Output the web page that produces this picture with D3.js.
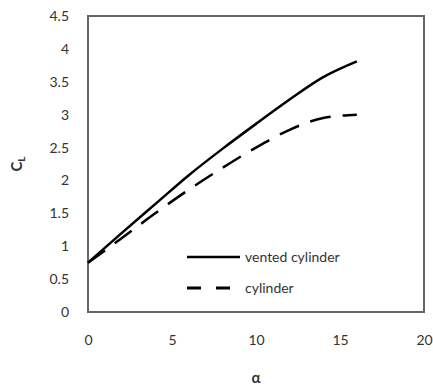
<!DOCTYPE html>
<html>
<head>
<meta charset="utf-8">
<script src="https://cdn.jsdelivr.net/npm/d3@7"></script>
<style>
  body { margin: 0; background: #fff; }
  text { font-family: Lato, "Open Sans", sans-serif; fill: #333; }
</style>
</head>
<body>
<div id="chart"></div>
<script>
// Data
//=================================
var alpha = [0, 2, 4, 6, 8, 10, 12, 14, 16];
var ventedCL = [0.75, 1.2, 1.64, 2.08, 2.48, 2.86, 3.23, 3.57, 3.81];
var cylinderCL = [0.75, 1.12, 1.5, 1.86, 2.19, 2.5, 2.77, 2.95, 3.0];
var xTicks = [0, 5, 10, 15, 20];
var yTicks = [0, 0.5, 1, 1.5, 2, 2.5, 3, 3.5, 4, 4.5];

// Set up the chart
//=================================
var svgWidth = 433;
var svgHeight = 389;
var margin = { top: 16, right: 9, bottom: 77, left: 88 };
var width = svgWidth - margin.left - margin.right;
var height = svgHeight - margin.top - margin.bottom;

var svg = d3.select("#chart")
  .append("svg")
  .attr("width", svgWidth)
  .attr("height", svgHeight);

var chartGroup = svg.append("g")
  .attr("transform", `translate(${margin.left}, ${margin.top})`);

var xScale = d3.scaleLinear().domain([0, 20]).range([0, width]);
var yScale = d3.scaleLinear().domain([0, 4.5]).range([height, 0]);

// axes (no tick marks, labels only)
var bottomAxis = d3.axisBottom(xScale).tickValues(xTicks).tickSize(0).tickPadding(23)
  .tickFormat(d3.format("~g"));
var leftAxis = d3.axisLeft(yScale).tickValues(yTicks).tickSize(0).tickPadding(19)
  .tickFormat(d3.format("~g"));

var xAxis = chartGroup.append("g")
  .attr("transform", `translate(0, ${height})`)
  .call(bottomAxis);
var yAxis = chartGroup.append("g").call(leftAxis);

[xAxis, yAxis].forEach(function(ax) {
  ax.select(".domain").remove();
  ax.selectAll("text")
    .attr("font-family", "Lato, 'Open Sans', sans-serif")
    .attr("font-size", "14px")
    .attr("fill", "#333");
});

// plot frame
chartGroup.append("rect")
  .attr("x", 0)
  .attr("y", 0)
  .attr("width", width)
  .attr("height", height)
  .attr("fill", "none")
  .attr("stroke", "#666")
  .attr("stroke-width", 2);

// lines
//=================================
var line = d3.line()
  .x(function(d, i) { return xScale(alpha[i]); })
  .y(function(d) { return yScale(d); })
  .curve(d3.curveMonotoneX);

chartGroup.append("path")
  .attr("d", line(ventedCL))
  .attr("fill", "none")
  .attr("stroke", "#000")
  .attr("stroke-width", 2.5);

chartGroup.append("path")
  .attr("d", line(cylinderCL))
  .attr("fill", "none")
  .attr("stroke", "#000")
  .attr("stroke-width", 2.5)
  .attr("stroke-dasharray", "21,12");

// legend
//=================================
var legend = chartGroup.append("g")
  .attr("transform", `translate(${99}, ${241})`);

legend.append("line")
  .attr("x1", 0).attr("x2", 53)
  .attr("y1", 0).attr("y2", 0)
  .attr("stroke", "#000")
  .attr("stroke-width", 2.5);
legend.append("text")
  .attr("x", 58).attr("y", 5)
  .attr("font-size", "14px")
  .text("vented cylinder");

legend.append("line")
  .attr("x1", 0).attr("x2", 43)
  .attr("y1", 31).attr("y2", 31)
  .attr("stroke", "#000")
  .attr("stroke-width", 3)
  .attr("stroke-dasharray", "14,15");
legend.append("text")
  .attr("x", 58).attr("y", 36)
  .attr("font-size", "14px")
  .text("cylinder");

// axis titles
//=================================
svg.append("text")
  .attr("x", margin.left + xScale(10))
  .attr("y", 383)
  .attr("text-anchor", "middle")
  .attr("font-size", "15px")
  .attr("font-weight", "bold")
  .text("α");

var yTitle = svg.append("text")
  .attr("transform", `translate(22, ${margin.top + height / 2}) rotate(-90)`)
  .attr("text-anchor", "middle")
  .attr("font-size", "15px")
  .attr("font-weight", "bold");
yTitle.append("tspan").text("C");
yTitle.append("tspan").attr("font-size", "10px").attr("dy", 3).text("L");
</script>
</body>
</html>
